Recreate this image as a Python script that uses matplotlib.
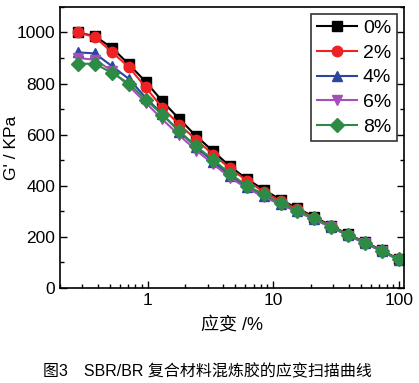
import matplotlib
matplotlib.use("Agg")
import matplotlib.pyplot as plt
from matplotlib.ticker import MultipleLocator, LogLocator, NullFormatter

plt.rcParams['font.family'] = ['Liberation Sans', 'Noto Sans CJK SC', 'DejaVu Sans']

# strain amplitude (%)
strain = [0.28, 0.38, 0.52, 0.71, 0.965, 1.31, 1.79, 2.44, 3.33, 4.53,
          6.18, 8.42, 11.5, 15.6, 21.3, 29.0, 39.5, 53.9, 73.4, 100]

# G' (KPa) per filler loading
g_0 = [1000, 985, 940, 875, 807, 731, 661, 594, 535, 476,
       426, 385, 345, 312, 278, 244, 210, 180, 147, 113]
g_2 = [1000, 982, 923, 864, 785, 705, 639, 580, 522, 468,
       420, 376, 340, 308, 275, 242, 209, 178, 146, 112]
g_4 = [922, 918, 868, 818, 745, 680, 612, 550, 495, 440,
       395, 360, 328, 300, 270, 238, 206, 176, 144, 111]
g_6 = [900, 893, 850, 790, 725, 660, 597, 538, 485, 432,
       390, 357, 326, 298, 268, 237, 205, 175, 143, 110]
g_8 = [878, 877, 842, 800, 737, 678, 613, 554, 502, 447,
       400, 367, 332, 303, 273, 240, 208, 178, 145, 112]

labels = ['0%', '2%', '4%', '6%', '8%']
series = [g_0, g_2, g_4, g_6, g_8]
colors = ['#000000', '#ee2222', '#2a46a0', '#a550b8', '#2e8b46']
markers = ['s', 'o', '^', 'v', 'D']
msizes = [6.5, 7.5, 7.5, 7.5, 7]

fig = plt.figure(figsize=(4.19, 3.83), dpi=100)
ax = fig.add_axes([0.143, 0.248, 0.821, 0.734])

for y, lab, c, m, ms in zip(series, labels, colors, markers, msizes):
    ax.plot(strain, y, color=c, marker=m, markersize=ms, linewidth=1.5, label=lab)

ax.set_xscale('log')
ax.set_xlim(0.2, 110)
ax.set_ylim(0, 1100)
ax.yaxis.set_major_locator(MultipleLocator(200))
ax.yaxis.set_minor_locator(MultipleLocator(100))
ax.xaxis.set_major_locator(LogLocator(base=10))
ax.xaxis.set_minor_locator(LogLocator(base=10, subs=range(2, 10)))
ax.xaxis.set_minor_formatter(NullFormatter())
ax.set_xticks([1, 10, 100])
ax.set_xticklabels(['1', '10', '100'])

ax.tick_params(which='both', direction='in', right=True, top=False, labelsize=12.5)
ax.tick_params(which='major', length=5, width=1)
ax.tick_params(which='minor', length=3, width=1)
for s in ax.spines.values():
    s.set_linewidth(1.2)

ax.set_ylabel("G' / KPa", fontsize=12.5, labelpad=-2)
ax.set_xlabel('应变 /%', fontsize=13, labelpad=6)

leg = ax.legend(loc='upper right', fontsize=14, frameon=True, fancybox=False,
                edgecolor='black', handlelength=2.05, handletextpad=0.3,
                labelspacing=0.36, borderpad=0.3, borderaxespad=0.35)
leg.get_frame().set_linewidth(1.2)

fig.text(0.494, 0.029, '图3　SBR/BR 复合材料混炼胶的应变扫描曲线',
         ha='center', va='center', fontsize=11.5)

fig.savefig('out.png', dpi=100)
